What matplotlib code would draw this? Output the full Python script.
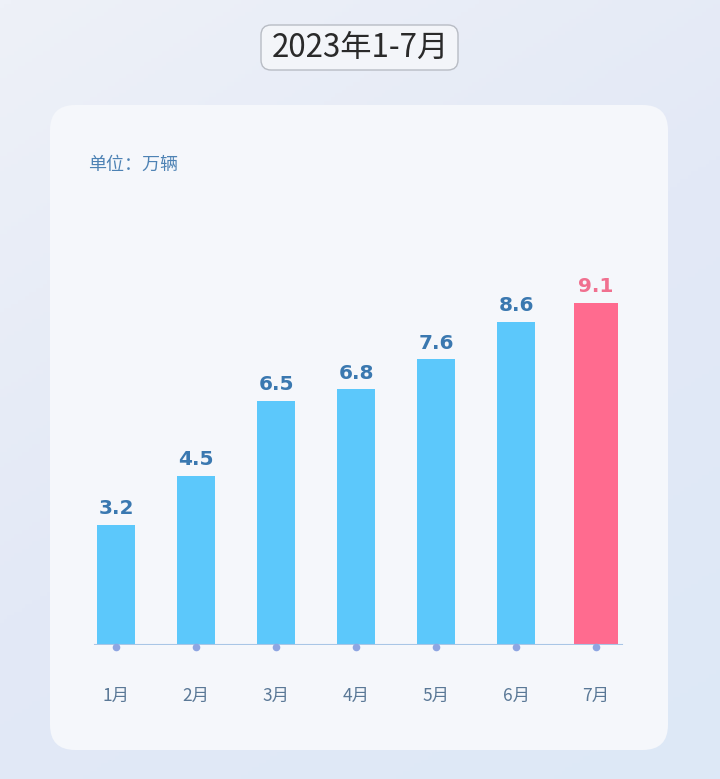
import numpy as np
import matplotlib
matplotlib.use('Agg')
import matplotlib.pyplot as plt
from matplotlib.patches import FancyBboxPatch

plt.rcParams['font.family'] = ['Noto Sans CJK SC', 'DejaVu Sans']

# data
months = ['1月', '2月', '3月', '4月', '5月', '6月', '7月']
values = [3.2, 4.5, 6.5, 6.8, 7.6, 8.6, 9.1]
title = '2023年1-7月'
unit = '单位：万辆'

W, H = 720, 779
fig = plt.figure(figsize=(W / 100, H / 100), dpi=100)

# background gradient
bg = fig.add_axes([0, 0, 1, 1])
yy, xx = np.mgrid[0:1:200j, 0:1:200j]
grad = 0.5 * yy + 0.3 * xx
cmap = matplotlib.colors.LinearSegmentedColormap.from_list('bg', ['#eef1f8', '#e3e9f6', '#dde8f7'])
bg.imshow(grad, cmap=cmap, extent=[0, 1, 0, 1], aspect='auto', origin='upper')
bg.set_xlim(0, 1)
bg.set_ylim(0, 1)
bg.axis('off')

def px(x, y):
    return x / W, 1 - y / H

# card
x0, y1 = px(50, 750)
x1, y0 = px(668, 105)
card = FancyBboxPatch((x0, y1), x1 - x0, y0 - y1,
                      boxstyle='round,pad=0,rounding_size=0.035',
                      transform=bg.transAxes, facecolor='#f5f7fb', edgecolor='none',
                      mutation_aspect=W / H, zorder=2)
bg.add_patch(card)

# title box
tx0, ty1 = px(261, 70)
tx1, ty0 = px(458, 25)
tbox = FancyBboxPatch((tx0, ty1), tx1 - tx0, ty0 - ty1,
                      boxstyle='round,pad=0,rounding_size=0.014',
                      transform=bg.transAxes, facecolor='#f3f5f9', edgecolor='#b8bcc4',
                      linewidth=1.0, mutation_aspect=W / H, zorder=3)
bg.add_patch(tbox)
bg.text(*px(360, 48), title, ha='center', va='center', fontsize=22.5,
        color='#2a2a2a', zorder=4)

bg.text(*px(88, 165), unit, ha='left', va='center', fontsize=13,
        color='#4d82b4', zorder=4)

# bar chart
scale = 37.6
base = 645
ax = fig.add_axes([76 / W, (H - base) / H, 560 / W, 10 * scale / H])
ax.patch.set_alpha(0)
xpos = np.arange(len(months))
colors = ['#5cc8fb'] * 6 + ['#ff6b8f']
widths = [0.475] * 6 + [0.55]
ax.bar(xpos, values, width=widths, color=colors, zorder=2)
for i, v in enumerate(values):
    c = '#f0708f' if i == len(values) - 1 else '#3a78b0'
    ax.text(xpos[i], v + 0.17, f'{v}', ha='center', va='bottom', fontsize=14.5,
            fontweight='bold', color=c, family=['DejaVu Sans'])
ax.set_xlim(-0.5, 6.5)
ax.set_ylim(0, 10)
ax.axhline(0, xmin=0.034, xmax=0.975, color='#a9c6e6', linewidth=1.5, zorder=3)
ax.scatter(xpos, np.zeros(len(xpos)) - 0.04, s=20, color='#8ea6e2', zorder=4, clip_on=False)
for s in ax.spines.values():
    s.set_visible(False)
ax.set_xticks(xpos)
ax.set_xticklabels(months, fontsize=12.5, color='#5a7896')
ax.tick_params(axis='x', length=0, pad=30)
ax.set_yticks([])

fig.savefig('out.png', dpi=100)
